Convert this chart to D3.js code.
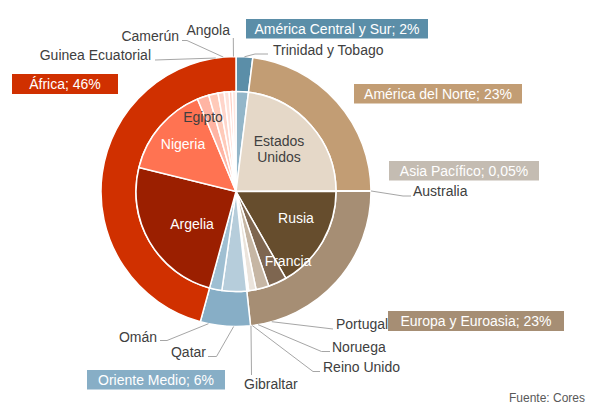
<!DOCTYPE html>
<html>
<head>
<meta charset="utf-8">
<script src="https://cdn.jsdelivr.net/npm/d3@7"></script>
<style>
  body { margin: 0; background: #fff; }
  text { font-family: "Liberation Sans", Arial, sans-serif; }
</style>
</head>
<body>
<div id="viz"></div>
<script>
const width = 589;
const height = 408;
const cx = 236;
const cy = 191.5;
const rPie = 100;
const rOuter = 135;
const textColor = '#404040';
const lineColor = '#a6a6a6';

// Data (clockwise from 12 o'clock)
const regions = ['América Central y Sur', 'América del Norte', 'Asia Pacífico', 'Europa y Euroasia', 'Oriente Medio', 'África'];
const regionShares = ['2%', '23%', '0,05%', '23%', '6%', '46%'];
const regionColors = ['#5b8ea8', '#c29d74', '#c4bcb2', '#a68e74', '#87aec6', '#d03000'];

const countries = ['Trinidad y Tobago', 'Estados Unidos', 'Australia', 'Rusia', 'Francia', 'Portugal', 'Noruega', 'Reino Unido', 'Gibraltar',
  'Qatar', 'Omán', 'Argelia', 'Nigeria', 'Egipto', 'otro-1', 'Guinea Ecuatorial', 'Camerún', 'otro-2', 'Angola'];
const countryRegion = [0, 1, 2, 3, 3, 3, 3, 3, 3, 4, 4, 5, 5, 5, 5, 5, 5, 5, 5];
const countryValues = [2, 23, 0.05, 16.8, 3.0, 2.1, 1.2, 0.2, 0.1, 4.0, 2.0, 24.7, 14.9, 1.9, 1.5, 1.0, 0.8, 0.5, 0.6];
const countryColors = ['#93b6c9', '#e5d8c8', '#ddd8d0', '#664d2d', '#7e6650', '#c6b6a4', '#ebe4dc', '#d9cfc4', '#f0ebe5',
  '#b6cddb', '#9fbfd2', '#9b1f00', '#ff7352', '#ffb4a3', '#ffcab9', '#ffd5ca', '#ffe2da', '#ffd0c4', '#ffe6df'];

const data = countries.map((name, i) => ({
  name: name,
  region: regions[countryRegion[i]],
  value: countryValues[i],
  color: countryColors[i]
}));

// Outer ring = sum per region, so the ring lines up with the inner pie
const regionData = d3.rollups(data, v => d3.sum(v, d => d.value), d => d.region)
  .map(([region, value]) => ({region, value, color: regionColors[regions.indexOf(region)]}));

// Label layout
const insideLabels = {
  'Estados Unidos': {x: 43, y: -51, lines: ['Estados', 'Unidos'], fill: textColor},
  'Rusia': {x: 60, y: 26, lines: ['Rusia'], fill: '#fff'},
  'Francia': {x: 52, y: 69, lines: ['Francia'], fill: '#fff'},
  'Argelia': {x: -44, y: 32, lines: ['Argelia'], fill: '#fff'},
  'Nigeria': {x: -53, y: -48, lines: ['Nigeria'], fill: '#fff'},
  'Egipto': {x: -33, y: -75, lines: ['Egipto'], fill: textColor}
};
// elbow point, line end, text position, anchor
const outsideLabels = {
  'Trinidad y Tobago': {pts: [[255, 54], [268, 54]], tx: 273, ty: 55, anchor: 'start'},
  'Australia': {pts: [[403, 196], [411, 196]], tx: 413, ty: 196, anchor: 'start'},
  'Portugal': {pts: [[333, 329]], tx: 336, ty: 329, anchor: 'start'},
  'Noruega': {pts: [[321.5, 351.5], [330, 351.5]], tx: 332, ty: 352, anchor: 'start'},
  'Reino Unido': {pts: [[313, 371.5], [320, 371.5]], tx: 323, ty: 372, anchor: 'start'},
  'Gibraltar': {pts: [[251.5, 375]], tx: 244, ty: 389, anchor: 'start'},
  'Qatar': {pts: [[216.5, 356.5], [208, 356.5]], tx: 206, ty: 357, anchor: 'end'},
  'Omán': {pts: [[167, 340.5], [160, 340.5]], tx: 157, ty: 342, anchor: 'end'},
  'Guinea Ecuatorial': {pts: [[155, 60]], tx: 151, ty: 60, anchor: 'end'},
  'Camerún': {pts: [[187, 40.5], [182, 40.5]], tx: 179, ty: 41, anchor: 'end'},
  'Angola': {pts: [[233.3, 38]], tx: 230, ty: 35, anchor: 'end'}
};
// region boxes: x, y, w, h
const regionBoxes = {
  'América Central y Sur': [246, 19, 182, 19.5],
  'América del Norte': [354, 84, 168, 19.5],
  'Asia Pacífico': [389, 161, 150, 19.5],
  'Europa y Euroasia': [388, 311, 176, 20],
  'Oriente Medio': [87, 370, 138, 19.5],
  'África': [12, 74, 106, 20]
};

const svg = d3.select('#viz')
  .append('svg')
    .attr('width', width)
    .attr('height', height)
    .attr('viewBox', [0, 0, width, height]);

const pie = d3.pie().sort(null).value(d => d.value);
const innerArcs = pie(data);
const outerArcs = pie(regionData);

const arcInner = d3.arc().innerRadius(0).outerRadius(rPie);
const arcOuter = d3.arc().innerRadius(rPie).outerRadius(rOuter);

const chart = svg.append('g')
  .attr('transform', `translate(${cx}, ${cy})`);

chart.append('g')
  .selectAll('path')
  .data(outerArcs)
  .join('path')
    .attr('d', arcOuter)
    .attr('fill', d => d.data.color)
    .attr('stroke', '#fff')
    .attr('stroke-width', 1.5);

chart.append('g')
  .selectAll('path')
  .data(innerArcs)
  .join('path')
    .attr('d', arcInner)
    .attr('fill', d => d.data.color)
    .attr('stroke', '#fff')
    .attr('stroke-width', 1.5);

// inside labels
innerArcs.filter(d => insideLabels[d.data.name]).forEach(d => {
  const lab = insideLabels[d.data.name];
  const t = chart.append('text')
    .attr('text-anchor', 'middle')
    .attr('fill', lab.fill)
    .style('font-size', '14px');
  lab.lines.forEach((line, i) => {
    t.append('tspan')
      .attr('x', lab.x)
      .attr('y', lab.y + i * 16 + 5)
      .text(line);
  });
});

// outside labels with leader lines
const line = d3.line();
innerArcs.filter(d => outsideLabels[d.data.name]).forEach(d => {
  const lab = outsideLabels[d.data.name];
  const a = (d.startAngle + d.endAngle) / 2;
  const start = [cx + rOuter * Math.sin(a), cy - rOuter * Math.cos(a)];
  svg.append('path')
    .attr('d', line([start, ...lab.pts]))
    .attr('fill', 'none')
    .attr('stroke', lineColor)
    .attr('stroke-width', 1);
  svg.append('text')
    .attr('x', lab.tx)
    .attr('y', lab.ty)
    .attr('text-anchor', lab.anchor)
    .attr('fill', textColor)
    .style('font-size', '14px')
    .text(d.data.name);
});

// region boxes
regionData.forEach(d => {
  const [x, y, w, h] = regionBoxes[d.region];
  svg.append('rect')
    .attr('x', x)
    .attr('y', y)
    .attr('width', w)
    .attr('height', h)
    .attr('fill', d.color);
  svg.append('text')
    .attr('x', x + w / 2)
    .attr('y', y + h / 2 + 5)
    .attr('text-anchor', 'middle')
    .attr('fill', '#fff')
    .style('font-size', '14px')
    .text(`${d.region}; ${regionShares[regions.indexOf(d.region)]}`);
});

svg.append('text')
  .attr('x', 585)
  .attr('y', 402)
  .attr('text-anchor', 'end')
  .attr('fill', '#595959')
  .style('font-size', '12px')
  .text('Fuente: Cores');
</script>
</body>
</html>
